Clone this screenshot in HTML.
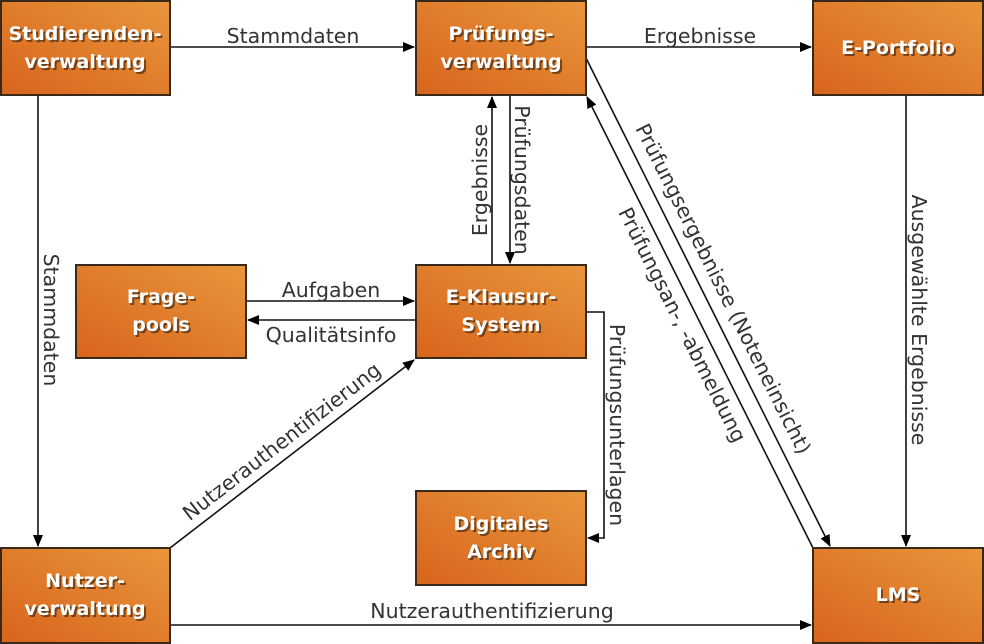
<!DOCTYPE html>
<html><head><meta charset="utf-8"><style>
html,body{margin:0;padding:0;background:#fff;}
svg{display:block;}
.b{fill:url(#g);stroke:#3a2818;stroke-width:2;}
.bt{font-family:"DejaVu Sans",sans-serif;font-weight:bold;font-size:19px;fill:#fff;text-anchor:middle;}
.sh{fill:#4a2a10;opacity:0.7;}
.l{font-family:"DejaVu Sans",sans-serif;font-size:20.5px;fill:#333;text-anchor:middle;}
.c{stroke:#111;stroke-width:1.6;fill:none;}
</style></head><body>
<svg width="984" height="644" viewBox="0 0 984 644">
<defs>
<linearGradient id="g" x1="0" y1="1" x2="1" y2="0">
<stop offset="0" stop-color="#d8641c"/><stop offset="1" stop-color="#e8963c"/>
</linearGradient>
<marker id="a" markerWidth="12" markerHeight="10" refX="11" refY="5" orient="auto" markerUnits="userSpaceOnUse">
<path d="M0,0 L12,5 L0,10 z" fill="#000"/></marker>
</defs>

<line class="c" x1="170" y1="47" x2="414" y2="47" marker-end="url(#a)"/>
<line class="c" x1="586" y1="47" x2="811" y2="47" marker-end="url(#a)"/>
<line class="c" x1="38" y1="95" x2="38" y2="546" marker-end="url(#a)"/>
<line class="c" x1="492" y1="265" x2="492" y2="97" marker-end="url(#a)"/>
<line class="c" x1="510" y1="95" x2="510" y2="263" marker-end="url(#a)"/>
<line class="c" x1="246" y1="301" x2="414" y2="301" marker-end="url(#a)"/>
<line class="c" x1="416" y1="320" x2="248" y2="320" marker-end="url(#a)"/>
<polyline class="c" points="586,312 604,312 604,538 588,538" marker-end="url(#a)"/>
<line class="c" x1="170" y1="548" x2="414" y2="360" marker-end="url(#a)"/>
<line class="c" x1="170" y1="625" x2="811" y2="625" marker-end="url(#a)"/>
<line class="c" x1="906" y1="95" x2="906" y2="546" marker-end="url(#a)"/>
<line class="c" x1="586" y1="58" x2="830" y2="546" marker-end="url(#a)"/>
<line class="c" x1="813" y1="548" x2="587" y2="97" marker-end="url(#a)"/>

<text class="l" x="293" y="43">Stammdaten</text>
<text class="l" x="700" y="43">Ergebnisse</text>
<text class="l" transform="translate(44,320) rotate(90)">Stammdaten</text>
<text class="l" transform="translate(487,180) rotate(-90)">Ergebnisse</text>
<text class="l" transform="translate(515,180) rotate(90)">Prüfungsdaten</text>
<text class="l" x="331" y="297">Aufgaben</text>
<text class="l" x="331" y="342">Qualitätsinfo</text>
<text class="l" transform="translate(610,425) rotate(90)">Prüfungsunterlagen</text>
<text class="l" transform="translate(286,447) rotate(-37.7)">Nutzerauthentifizierung</text>
<text class="l" x="492" y="618">Nutzerauthentifizierung</text>
<text class="l" transform="translate(912,320) rotate(90)">Ausgewählte Ergebnisse</text>
<text class="l" transform="translate(717,292) rotate(63.4)">Prüfungsergebnisse (Noteneinsicht)</text>
<text class="l" transform="translate(676,328) rotate(63.4)">Prüfungsan-, -abmeldung</text>

<rect class="b" x="1" y="1" width="169" height="94"/>
<rect class="b" x="416" y="1" width="170" height="94"/>
<rect class="b" x="813" y="1" width="170" height="94"/>
<rect class="b" x="76" y="265" width="170" height="93"/>
<rect class="b" x="416" y="265" width="170" height="93"/>
<rect class="b" x="416" y="491" width="170" height="94"/>
<rect class="b" x="1" y="548" width="169" height="95"/>
<rect class="b" x="813" y="548" width="170" height="95"/>

<g>
<text class="bt sh" x="87" y="42">Studierenden-</text><text class="bt" x="85" y="40">Studierenden-</text>
<text class="bt sh" x="87" y="70">verwaltung</text><text class="bt" x="85" y="68">verwaltung</text>
<text class="bt sh" x="503" y="42">Prüfungs-</text><text class="bt" x="501" y="40">Prüfungs-</text>
<text class="bt sh" x="503" y="70">verwaltung</text><text class="bt" x="501" y="68">verwaltung</text>
<text class="bt sh" x="900" y="56">E-Portfolio</text><text class="bt" x="898" y="54">E-Portfolio</text>
<text class="bt sh" x="163" y="305">Frage-</text><text class="bt" x="161" y="303">Frage-</text>
<text class="bt sh" x="163" y="333">pools</text><text class="bt" x="161" y="331">pools</text>
<text class="bt sh" x="503" y="305">E-Klausur-</text><text class="bt" x="501" y="303">E-Klausur-</text>
<text class="bt sh" x="503" y="333">System</text><text class="bt" x="501" y="331">System</text>
<text class="bt sh" x="503" y="532">Digitales</text><text class="bt" x="501" y="530">Digitales</text>
<text class="bt sh" x="503" y="560">Archiv</text><text class="bt" x="501" y="558">Archiv</text>
<text class="bt sh" x="87" y="589">Nutzer-</text><text class="bt" x="85" y="587">Nutzer-</text>
<text class="bt sh" x="87" y="617">verwaltung</text><text class="bt" x="85" y="615">verwaltung</text>
<text class="bt sh" x="900" y="603">LMS</text><text class="bt" x="898" y="601">LMS</text>
</g>
</svg>
</body></html>
